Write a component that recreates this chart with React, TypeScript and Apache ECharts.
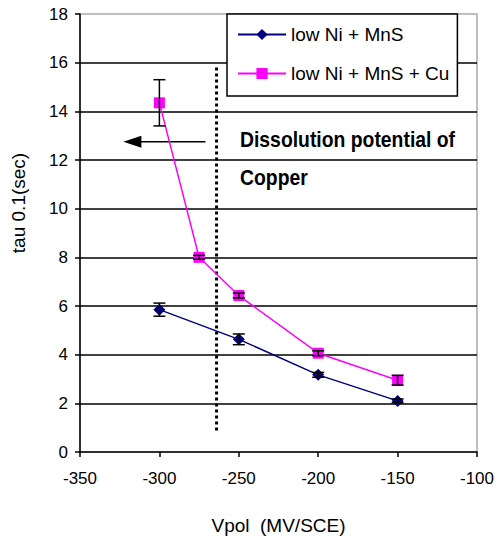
import React, { useEffect, useRef } from "react";
import * as echarts from "echarts";

// Data
const seriesNames = ["low Ni + MnS", "low Ni + MnS + Cu"];
const vpolA = [-300, -250, -200, -150];
const tauA = [5.85, 4.63, 3.17, 2.1];
const errA = [0.27, 0.22, 0.1, 0.08];
const vpolB = [-300, -275, -250, -200, -150];
const tauB = [14.35, 8.0, 6.43, 4.06, 2.95];
const errB = [0.95, 0.08, 0.1, 0.1, 0.2];
const dissolutionV = -264;
const dissolutionRange = [15.8, 0.85];
const arrowXs = [-271, -317];
const arrowY = 12.75;
const annotationLines = ["Dissolution potential of", "Copper"];

const FONT = "'Liberation Sans', Arial, sans-serif";

export default function App() {
  const ref = useRef<HTMLDivElement>(null);
  useEffect(() => {
    if (!ref.current) return;
    const chart = echarts.init(ref.current, undefined, { renderer: "svg" });
    const errRender = (params: any, api: any) => {
      const x = api.value(0);
      const y = api.value(1);
      const e = api.value(2);
      const top = api.coord([x, y + e]);
      const bot = api.coord([x, y - e]);
      const hw = 6;
      const style = { stroke: "#000", lineWidth: 1.5 };
      return {
        type: "group",
        children: [
          { type: "line", shape: { x1: top[0], y1: top[1], x2: bot[0], y2: bot[1] }, style },
          { type: "line", shape: { x1: top[0] - hw, y1: top[1], x2: top[0] + hw, y2: top[1] }, style },
          { type: "line", shape: { x1: bot[0] - hw, y1: bot[1], x2: bot[0] + hw, y2: bot[1] }, style },
        ],
      };
    };
    chart.setOption({
      animation: false,
      backgroundColor: "#fff",
      grid: {
        left: 80,
        right: 21,
        top: 14,
        bottom: 87,
        show: true,
        borderColor: "#aaa",
        borderWidth: 1.5,
      },
      legend: {
        data: seriesNames,
        orient: "vertical",
        left: 227,
        top: 14,
        padding: [11, 8, 13, 10],
        itemGap: 20,
        itemWidth: 48,
        itemHeight: 14,
        backgroundColor: "#fff",
        borderColor: "#000",
        borderWidth: 1.5,
        textStyle: { fontFamily: FONT, fontSize: 19, color: "#000" },
        z: 20,
      },
      xAxis: {
        type: "value",
        min: -350,
        max: -100,
        interval: 50,
        name: "Vpol  (MV/SCE)",
        nameLocation: "middle",
        nameGap: 64,
        nameTextStyle: { fontFamily: FONT, fontSize: 19, color: "#000" },
        axisLine: { lineStyle: { color: "#000", width: 1.5 } },
        axisTick: { show: true, length: 5, lineStyle: { color: "#000", width: 1.5 } },
        axisLabel: { fontFamily: FONT, fontSize: 17, color: "#000", margin: 18 },
        splitLine: { show: false },
      },
      yAxis: {
        type: "value",
        min: 0,
        max: 18,
        interval: 2,
        name: "tau 0.1(sec)",
        nameLocation: "middle",
        nameGap: 52,
        nameTextStyle: { fontFamily: FONT, fontSize: 19, color: "#000", padding: [0, 0, 0, 60] },
        axisLine: { lineStyle: { color: "#000", width: 1.5 } },
        axisTick: { show: true, length: 5, lineStyle: { color: "#000", width: 1.5 } },
        axisLabel: { fontFamily: FONT, fontSize: 17, color: "#000", margin: 12 },
        splitLine: { show: true, showMinLine: false, showMaxLine: false, lineStyle: { color: "#000", width: 1.5 } },
      },
      graphic: annotationLines.map((t, i) => ({
        type: "text",
        x: 240,
        y: 128 + i * 38,
        scaleX: 0.88,
        z: 30,
        style: {
          text: t,
          fontFamily: FONT,
          fontWeight: "bold",
          fontSize: 22,
          fill: "#000",
        },
      })),
      series: [
        {
          name: seriesNames[0],
          type: "line",
          data: vpolA.map((v, i) => [v, tauA[i]]),
          symbol: "diamond",
          symbolSize: 12,
          color: "#000080",
          lineStyle: { color: "#000080", width: 1.5 },
          itemStyle: { color: "#000080" },
          z: 5,
        },
        {
          name: seriesNames[1],
          type: "line",
          data: vpolB.map((v, i) => [v, tauB[i]]),
          symbol: "rect",
          symbolSize: 11,
          color: "#ff00ff",
          lineStyle: { color: "#ff00ff", width: 1.5 },
          itemStyle: { color: "#ff00ff" },
          z: 5,
        },
        {
          type: "custom",
          name: "errA",
          renderItem: errRender,
          data: vpolA.map((v, i) => [v, tauA[i], errA[i]]),
          encode: { x: 0, y: 1 },
          z: 6,
        },
        {
          type: "custom",
          name: "errB",
          renderItem: errRender,
          data: vpolB.map((v, i) => [v, tauB[i], errB[i]]),
          encode: { x: 0, y: 1 },
          z: 6,
        },
        {
          type: "line",
          name: "dissolution",
          data: dissolutionRange.map((y) => [dissolutionV, y]),
          symbol: "none",
          lineStyle: { color: "#000", width: 3, type: [3, 3] },
          z: 4,
        },
        {
          type: "line",
          name: "arrow",
          data: [
            { value: [arrowXs[0], arrowY], symbol: "none" },
            { value: [arrowXs[1], arrowY], symbol: "triangle", symbolSize: [12, 18], symbolRotate: 90 },
          ],
          showSymbol: true,
          symbol: "triangle",
          itemStyle: { color: "#000" },
          lineStyle: { color: "#000", width: 1.5 },
          z: 4,
        },
      ],
    });
    return () => chart.dispose();
  }, []);
  return (
    <div
      ref={ref}
      style={{ position: "fixed", left: 0, top: 0, width: 498, height: 540 }}
    />
  );
}
